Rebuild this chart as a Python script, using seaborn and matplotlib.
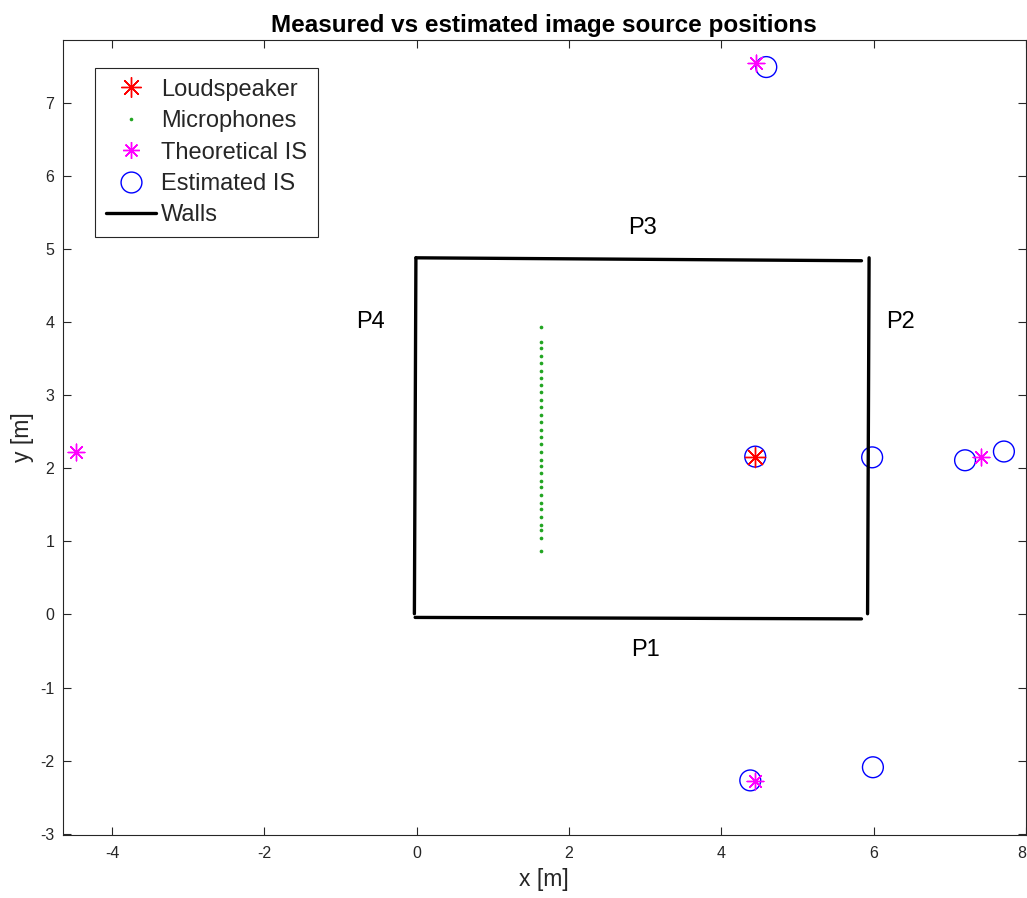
import numpy as np
import pandas as pd
import matplotlib
matplotlib.use("Agg")
import matplotlib.pyplot as plt
from matplotlib.lines import Line2D
import seaborn as sns

# ---------------- data ----------------
speaker_x = [4.445]
speaker_y = [2.16]

mic_x = [1.63] * 30
mic_y = [3.94, 3.73, 3.64, 3.53, 3.44, 3.33, 3.23, 3.14, 3.04, 2.93,
         2.84, 2.73, 2.63, 2.53, 2.43, 2.33, 2.23, 2.12, 2.03, 1.93,
         1.82, 1.75, 1.63, 1.52, 1.45, 1.34, 1.22, 1.16, 1.04, 0.87]

theo_x = [-4.47, 4.46, 7.41, 4.445]
theo_y = [2.23, 7.55, 2.15, -2.28]

est_x = [4.445, 4.59, 5.98, 7.20, 7.71, 4.38, 5.99]
est_y = [2.16, 7.49, 2.15, 2.11, 2.23, -2.27, -2.09]

wall_id = ["P1", "P1", "P2", "P2", "P3", "P3", "P4", "P4"]
wall_x = [-0.02, 5.84, 5.92, 5.94, -0.01, 5.84, -0.03, -0.01]
wall_y = [-0.04, -0.06, 0.01, 4.88, 4.88, 4.84, 0.01, 4.88]

label_names = ["P1", "P2", "P3", "P4"]
label_x = [3.0, 6.35, 2.97, -0.61]
label_y = [-0.48, 4.0, 5.29, 4.0]

xticks = [-4, -2, 0, 2, 4, 6, 8]
yticks = list(range(-3, 8))

# ---------------- style ----------------
sns.set_theme(style="white")
plt.rcParams["font.family"] = ["Liberation Sans", "DejaVu Sans"]
plt.rcParams["axes.unicode_minus"] = False

fig = plt.figure(figsize=(10.27, 8.98), dpi=100)
ax = fig.add_axes([62.5 / 1027, 1 - 834.5 / 898, (1026 - 62.5) / 1027, (834.5 - 40) / 898])

walls = pd.DataFrame({"wall": wall_id, "x": wall_x, "y": wall_y})
sns.lineplot(data=walls, x="x", y="y", units="wall", estimator=None, sort=False,
             color="black", linewidth=2.4, ax=ax, legend=False)

sns.scatterplot(x=mic_x, y=mic_y, color="#22a522", s=7, linewidth=0, ax=ax)
sns.scatterplot(x=est_x, y=est_y, marker="o", s=15 ** 2, facecolor="none",
                edgecolor="blue", linewidth=1.0, ax=ax)
sns.scatterplot(x=theo_x, y=theo_y, marker=(8, 2, 0), s=12 ** 2, color="magenta",
                edgecolor="magenta", linewidth=1.0, ax=ax)
sns.scatterplot(x=speaker_x, y=speaker_y, marker=(8, 2, 0), s=14.5 ** 2, color="red",
                edgecolor="red", linewidth=1.0, ax=ax)

for n, lx, ly in zip(label_names, label_x, label_y):
    ax.text(lx, ly, n, ha="center", va="center", fontsize=17, color="black")

ax.set_xlim(-4.65, 8.0)
ax.set_ylim(-3.01, 7.86)
ax.set_xticks(xticks)
ax.set_yticks(yticks)
ax.tick_params(direction="in", length=6, width=0.8, color="#262626",
               labelsize=11.5, labelcolor="#262626", top=True, right=True,
               bottom=True, left=True, labeltop=False, labelright=False)
ax.tick_params(axis="x", pad=8)
ax.tick_params(axis="y", pad=6)
xt = ax.get_xticklabels()
xt[-1].set_ha("right")
for sp in ax.spines.values():
    sp.set_visible(True)
    sp.set_color("#262626")
    sp.set_linewidth(0.8)

ax.set_xlabel("x [m]", fontsize=16.5, color="#262626", labelpad=5)
ax.set_ylabel("y [m]", fontsize=16.5, color="#262626", labelpad=4)
ax.set_title("Measured vs estimated image source positions", fontsize=17.5,
             fontweight="bold", color="black", pad=6)

handles = [
    Line2D([], [], linestyle="none", marker=(8, 2, 0), markersize=14.5,
           markeredgecolor="red", color="red", markeredgewidth=1.0),
    Line2D([], [], linestyle="none", marker="o", markersize=2.6,
           markeredgecolor="none", markerfacecolor="#22a522"),
    Line2D([], [], linestyle="none", marker=(8, 2, 0), markersize=12,
           markeredgecolor="magenta", color="magenta", markeredgewidth=1.0),
    Line2D([], [], linestyle="none", marker="o", markersize=15,
           markerfacecolor="none", markeredgecolor="blue", markeredgewidth=1.0),
    Line2D([], [], color="black", linewidth=2.4),
]
labels = ["Loudspeaker", "Microphones", "Theoretical IS", "Estimated IS", "Walls"]
leg = ax.legend(handles, labels, loc="upper left",
                bbox_to_anchor=((95 - 62.5) / 963.5, (834.5 - 68) / 794.5),
                borderaxespad=0, fontsize=17, frameon=True, fancybox=False,
                edgecolor="#262626", framealpha=1, handlelength=2.15,
                handletextpad=0.2, labelspacing=0.4, borderpad=0.45)
leg.get_frame().set_linewidth(0.8)

fig.savefig("out.png", dpi=100)
